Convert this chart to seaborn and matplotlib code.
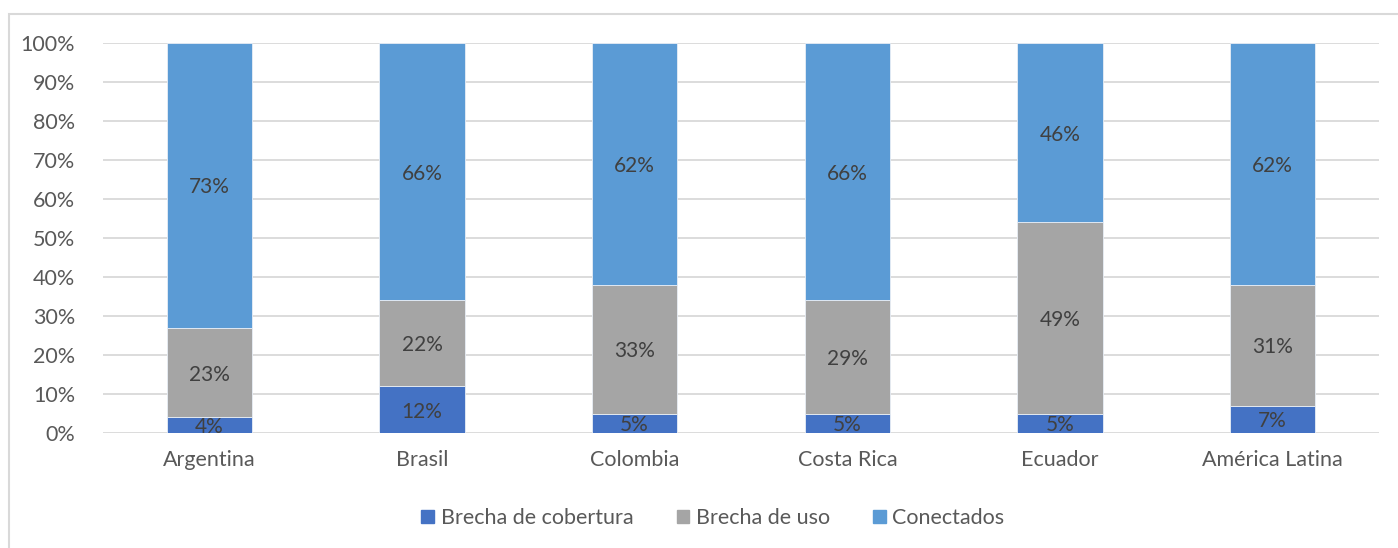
import matplotlib
matplotlib.use("Agg")
import matplotlib.pyplot as plt
import matplotlib.patches as mpatches
import seaborn as sns
import pandas as pd
import numpy as np

categories = ["Argentina", "Brasil", "Colombia", "Costa Rica", "Ecuador", "América Latina"]
brecha_cobertura = [4, 12, 5, 5, 5, 7]
brecha_uso = [23, 22, 33, 29, 49, 31]
conectados = [73, 66, 62, 66, 46, 62]

series_names = ["Brecha de cobertura", "Brecha de uso", "Conectados"]
series_vals = [brecha_cobertura, brecha_uso, conectados]
colors = ["#4472C4", "#A5A5A5", "#5B9BD5"]

sns.set_theme(style="white")
plt.rcParams['font.family'] = ['Lato', 'DejaVu Sans']

fig = plt.figure(figsize=(13.98, 5.48), dpi=100)
ax = fig.add_axes([103/1398, 1-433/548, (1379-103)/1398, (433-43)/548])

# border of chart area
fig.patches.append(mpatches.Rectangle((9/1398, -0.05), 1.0, 1-14/548+0.05,
                                      transform=fig.transFigure, fill=False,
                                      edgecolor="#D9D9D9", linewidth=1.5, zorder=0))

bottom = np.zeros(len(categories))
for name, vals, col in zip(series_names, series_vals, colors):
    v = np.array(vals) / 100.0
    df = pd.DataFrame({"cat": categories, "val": v})
    sns.barplot(data=df, x="cat", y="val", bottom=bottom, color=col, width=0.4,
                ax=ax, saturation=1, zorder=3, edgecolor="#E8EEF6", linewidth=0.6)
    for i, (b, h) in enumerate(zip(bottom, v)):
        ax.text(i, b + h/2, f"{vals[i]}%", ha="center", va="center_baseline",
                fontsize=15, color="#404040", zorder=5)
    bottom = bottom + v

if ax.get_legend() is not None:
    ax.get_legend().remove()

ax.set_ylim(0, 1)
ax.set_xlim(-0.5, len(categories) - 0.5)
ticks = np.arange(0, 1.01, 0.1)
ax.set_yticks(ticks)
ax.set_yticklabels([f"{int(round(t*100))}%" for t in ticks])
ax.yaxis.grid(True, color="#D9D9D9", linewidth=1.3, zorder=0)
ax.set_axisbelow(True)
for s in ax.spines.values():
    s.set_visible(False)
ax.tick_params(axis="y", length=0, pad=20, labelsize=15.5, labelcolor="#595959")
ax.tick_params(axis="x", length=0, pad=12, labelsize=15.5, labelcolor="#595959")
ax.set_xlabel("")
ax.set_ylabel("")

handles = [mpatches.Patch(color=c) for c in colors]
leg = fig.legend(handles, series_names, loc="center", bbox_to_anchor=(713/1398, 1-518/548),
                 ncol=3, frameon=False, fontsize=15.5, handlelength=0.6, handleheight=0.6,
                 handletextpad=0.3, columnspacing=2.0)
for t in leg.get_texts():
    t.set_color("#595959")

fig.savefig("out.png", dpi=100)
